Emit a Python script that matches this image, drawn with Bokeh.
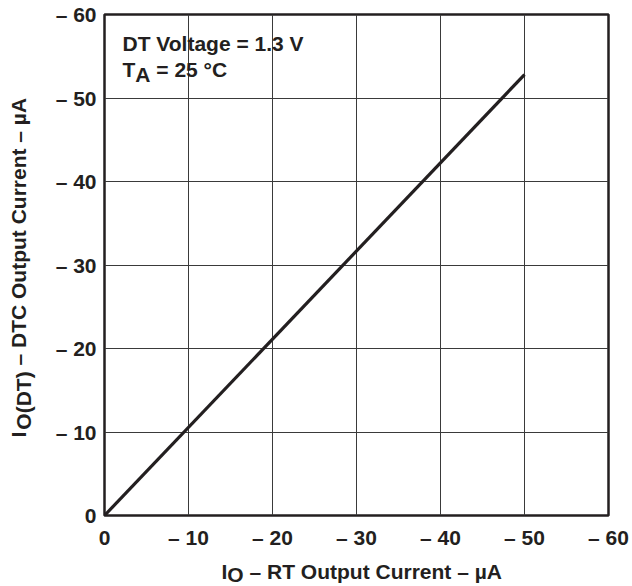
import math
from bokeh.plotting import figure
from bokeh.layouts import row, column
from bokeh.models import Range1d, FixedTicker, Label
from bokeh.embed import file_html
from bokeh.resources import INLINE

# ---------------- data ----------------
rt_current = [0, -50]          # I_O - RT output current (uA)
dtc_current = [0, -52.8]       # I_O(DT) - DTC output current (uA)

x_ticks = [0, -10, -20, -30, -40, -50, -60]
x_tick_labels = ["0", "– 10", "– 20", "– 30", "– 40", "– 50", "– 60"]
y_ticks = [0, -10, -20, -30, -40, -50, -60]
y_tick_labels = ["0", "– 10", "– 20", "– 30", "– 40", "– 50", "– 60"]

x_title_parts = ["I", "O", "– RT Output Current – µA"]
y_title_parts = ["I", "O(DT)", "– DTC Output Current – µA"]
note_line1 = "DT Voltage = 1.3 V"
note_line2_parts = ["T", "A", "= 25 °C"]

# ---------------- styling / geometry ----------------
INK = "#231f20"
FONT = "Liberation Sans"
FS = 21
FSZ = f"{FS}px"
BASE_FIX = 7        # Bokeh draws "alphabetic" text this much lower than asked

TOTAL_W, TOTAL_H = 630, 586
YT_W = 36                       # width of the y-title strip
MAIN_W = TOTAL_W - YT_W
MAIN_H = 552
XT_H = TOTAL_H - MAIN_H

FRAME_L, FRAME_T, FRAME_W, FRAME_H = 104, 14, 504, 501   # page coords of the plot box
FRAME_B = FRAME_T + FRAME_H
PXX = FRAME_W / 60.0
PXY = FRAME_H / 60.0
BORDER_L = FRAME_L - YT_W
BORDER_R = MAIN_W - BORDER_L - FRAME_W

def dx(px):
    return -(px - FRAME_L) / PXX

def dy(py):
    return -(FRAME_B - py) / PXY

# Liberation Sans Bold (Arial metrics) advance widths, em
ADV = {"I": 0.278, "O": 0.778, "T": 0.611, "A": 0.722, "(": 0.333, ")": 0.333,
       "D": 0.722, " ": 0.278}

def width(s):
    return sum(ADV[c] for c in s) * FS

SPACE = width(" ")

def make_label(x, y, text, angle=0.0):
    return Label(x=x, y=y, text=text, text_font=FONT, text_font_style="bold",
                 text_font_size=FSZ, text_color=INK, text_align="left",
                 text_baseline="alphabetic", angle=angle)

# ---------------- main plot ----------------
p = figure(width=MAIN_W, height=MAIN_H, output_backend="svg", toolbar_location=None,
           x_range=Range1d(0, -60), y_range=Range1d(0, -60),
           min_border_left=BORDER_L, min_border_right=BORDER_R,
           min_border_top=FRAME_T, min_border_bottom=MAIN_H - FRAME_B,
           background_fill_color="white", border_fill_color="white")
p.title.visible = False
p.outline_line_color = INK
p.outline_line_width = 2.5

for ax in (p.xaxis[0], p.yaxis[0]):
    ax.axis_line_color = None
    ax.major_tick_line_color = None
    ax.minor_tick_line_color = None
    ax.major_tick_out = 0
    ax.major_tick_in = 0
    ax.major_label_text_font = FONT
    ax.major_label_text_font_style = "bold"
    ax.major_label_text_font_size = FSZ
    ax.major_label_text_color = INK

p.xaxis[0].ticker = FixedTicker(ticks=x_ticks)
p.xaxis[0].major_label_overrides = {t: l for t, l in zip(x_ticks, x_tick_labels)}
p.xaxis[0].major_label_standoff = 10
p.yaxis[0].ticker = FixedTicker(ticks=y_ticks)
p.yaxis[0].major_label_overrides = {t: l for t, l in zip(y_ticks, y_tick_labels)}
p.yaxis[0].major_label_standoff = 8

p.xgrid.grid_line_color = "#3a3a3a"
p.ygrid.grid_line_color = "#3a3a3a"
p.xgrid.grid_line_width = 1
p.ygrid.grid_line_width = 1

p.line(rt_current, dtc_current, line_color=INK, line_width=3.2)

# note inside the plot box
p.add_layout(make_label(dx(122), dy(50 - BASE_FIX), note_line1))
x0 = 122
p.add_layout(make_label(dx(x0), dy(76 - BASE_FIX), note_line2_parts[0]))
x0 += width(note_line2_parts[0])
p.add_layout(make_label(dx(x0), dy(81 - BASE_FIX), note_line2_parts[1]))
x0 += width(note_line2_parts[1]) + SPACE
p.add_layout(make_label(dx(x0), dy(76 - BASE_FIX), note_line2_parts[2]))

# ---------------- title strips ----------------
def strip(w, h, xr, yr, bl, br, bt, bb):
    f = figure(width=w, height=h, output_backend="svg", toolbar_location=None,
               x_range=xr, y_range=yr, x_axis_type=None, y_axis_type=None,
               min_border_left=bl, min_border_right=br, min_border_top=bt,
               min_border_bottom=bb, outline_line_color=None,
               background_fill_color="white", border_fill_color="white")
    f.title.visible = False
    return f

# y title: x in strip pixels, y in the main plot's data units
yt = strip(YT_W, TOTAL_H, Range1d(0, YT_W), Range1d(0, -60), 0, 0, FRAME_T, TOTAL_H - FRAME_B)
bx, y0 = 25 - BASE_FIX, 437
yt.add_layout(make_label(bx, dy(y0), y_title_parts[0], math.pi / 2))
y0 -= width(y_title_parts[0]) + 2
yt.add_layout(make_label(bx + 5, dy(y0), y_title_parts[1], math.pi / 2))
y0 -= width(y_title_parts[1]) + SPACE
yt.add_layout(make_label(bx, dy(y0), y_title_parts[2], math.pi / 2))

# x title: x in the main plot's data units, y in page pixels
xt = strip(MAIN_W, XT_H, Range1d(0, -60), Range1d(TOTAL_H, MAIN_H), BORDER_L, BORDER_R, 0, 0)
x0, base = 221, 578 - BASE_FIX
xt.add_layout(make_label(dx(x0), base, x_title_parts[0]))
x0 += width(x_title_parts[0])
xt.add_layout(make_label(dx(x0), base + 3, x_title_parts[1]))
x0 += width(x_title_parts[1]) + SPACE
xt.add_layout(make_label(dx(x0), base, x_title_parts[2]))

layout = row(yt, column(p, xt))
open("out.html", "w").write(file_html(layout, INLINE))
